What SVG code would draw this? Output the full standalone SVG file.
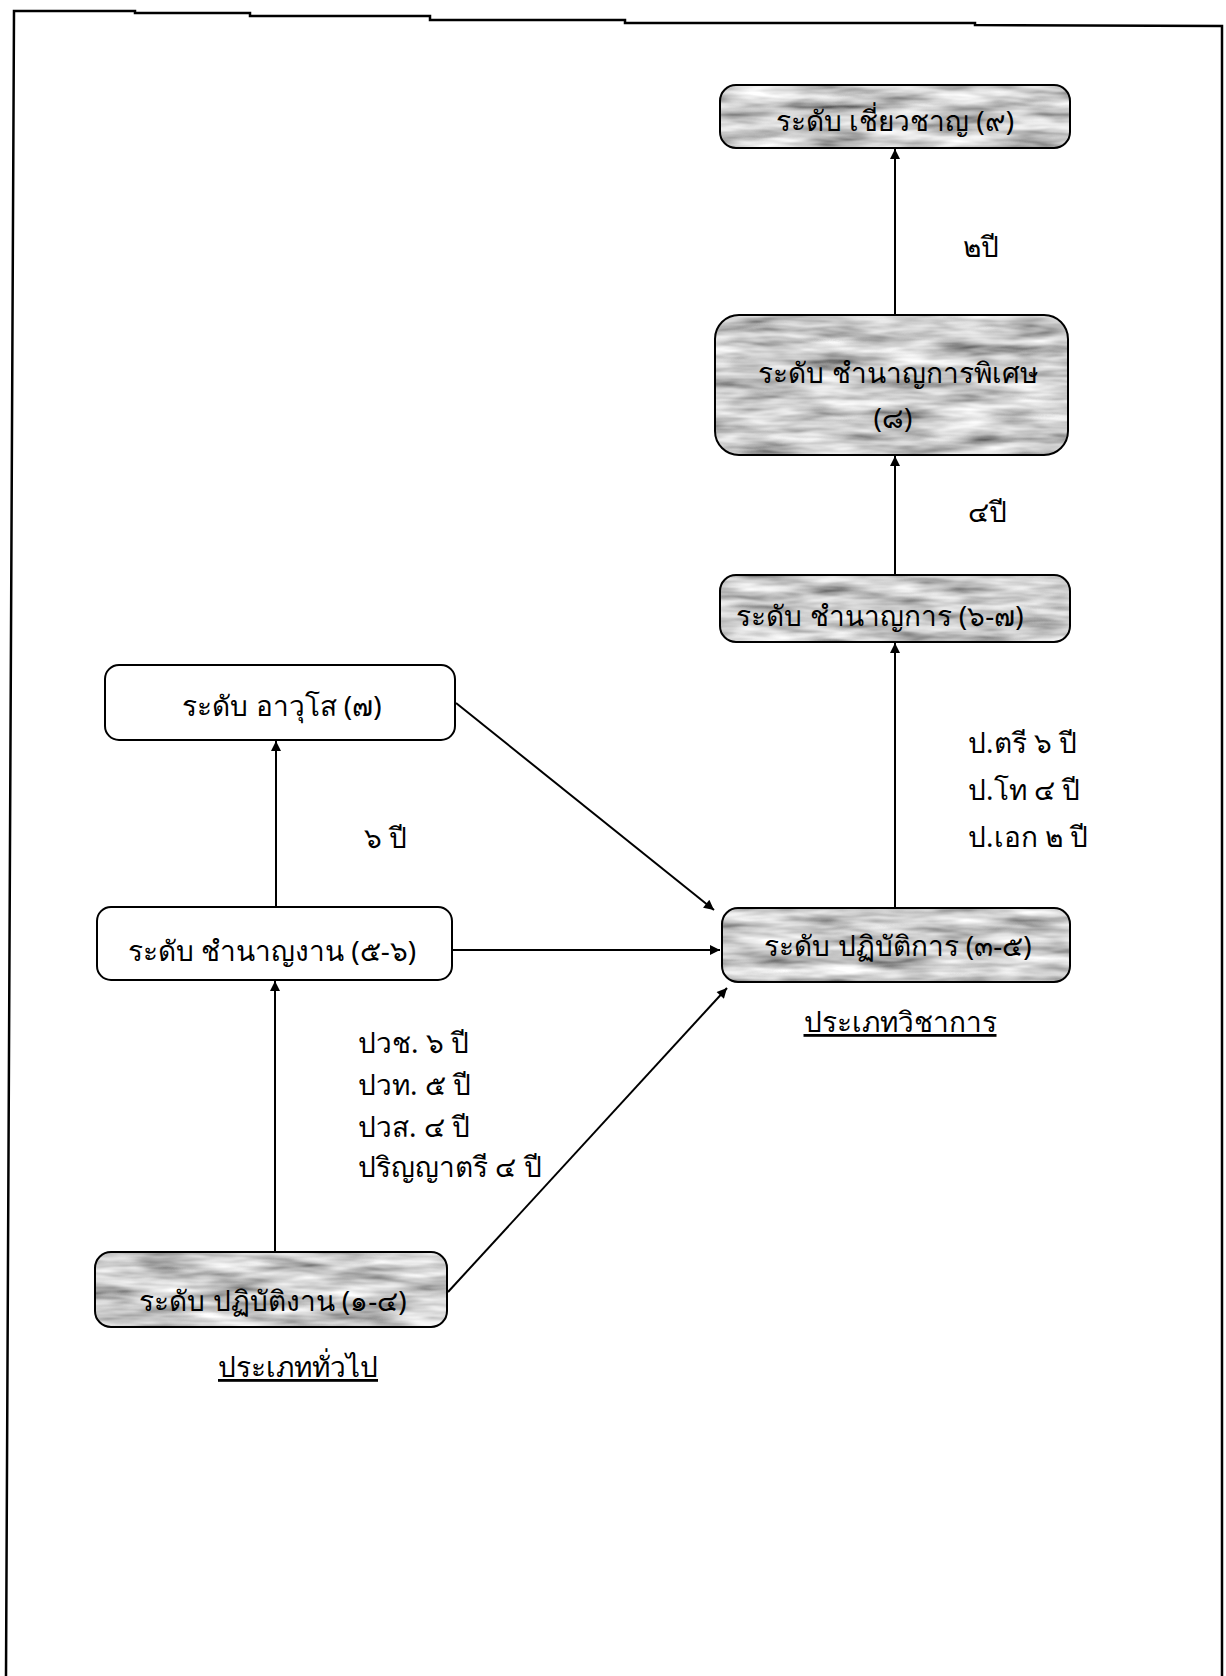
<svg xmlns="http://www.w3.org/2000/svg" width="1226" height="1676" viewBox="0 0 1226 1676">
<style>
  .t { font-family: "Noto Sans", "DejaVu Sans", sans-serif; font-size: 28px; fill: #000; }
  .c { text-anchor: middle; }
  .lbl { font-family: "Noto Sans", "DejaVu Sans", sans-serif; font-size: 28px; fill: #000; }
  .u { text-decoration: underline; }
  .box { fill: none; stroke: #000; stroke-width: 2; }
  .wbox { fill: #fff; stroke: #000; stroke-width: 2; }
  .gfill { fill: #000; filter: url(#tex); }
  .con { stroke: #000; stroke-width: 2; fill: none; marker-end: url(#ah); }
  .frame { stroke: #000; stroke-width: 2.5; fill: none; }
</style>
<defs>
  <marker id="ah" viewBox="0 0 10 10" refX="10" refY="5" markerWidth="6" markerHeight="5" orient="auto" markerUnits="strokeWidth">
    <path d="M0,0 L10,5 L0,10 z" fill="#000"/>
  </marker>
  <filter id="tex" x="0" y="0" width="100%" height="100%">
    <feTurbulence type="fractalNoise" baseFrequency="0.015 0.09" numOctaves="3" seed="7" result="n"/>
    <feColorMatrix in="n" type="matrix" values="1.3 0 0 0 -0.05  1.3 0 0 0 -0.05  1.3 0 0 0 -0.05  0 0 0 0 1" result="g"/>
    <feComposite in="g" in2="SourceAlpha" operator="in"/>
  </filter>
</defs>
<rect x="0" y="0" width="1226" height="1676" fill="#fff"/>
<g id="frame">
  <polyline class="frame" points="6,1676 14,11 135,11 135,13 250,13 250,16 430,16 430,20 625,20 625,23 975,23 975,25 1222,26 1222,1676"/>
</g>
<g id="connectors">
  <line class="con" x1="895" y1="315" x2="895" y2="149"/>
  <line class="con" x1="895" y1="575" x2="895" y2="456"/>
  <line class="con" x1="895" y1="908" x2="895" y2="643"/>
  <line class="con" x1="456" y1="703" x2="714" y2="910"/>
  <line class="con" x1="453" y1="950" x2="720" y2="950"/>
  <line class="con" x1="448" y1="1292" x2="727" y2="988"/>
  <line class="con" x1="275" y1="1252" x2="275" y2="981"/>
  <line class="con" x1="276" y1="907" x2="276" y2="741"/>
</g>
<g id="n_expert">
  <rect class="gfill" x="720" y="85" width="350" height="63" rx="16"/>
  <rect class="box" x="720" y="85" width="350" height="63" rx="16"/>
  <text class="t c" x="895" y="131">ระดับ เชี่ยวชาญ (๙)</text>
</g>
<g id="n_senior_pro">
  <rect class="gfill" x="715" y="315" width="353" height="140" rx="24"/>
  <rect class="box" x="715" y="315" width="353" height="140" rx="24"/>
  <text class="t c" x="898" y="383">ระดับ ชำนาญการพิเศษ</text>
  <text class="t c" x="893" y="428">(๘)</text>
</g>
<g id="n_pro">
  <rect class="gfill" x="720" y="575" width="350" height="67" rx="16"/>
  <rect class="box" x="720" y="575" width="350" height="67" rx="16"/>
  <text class="t c" x="880" y="626">ระดับ ชำนาญการ (๖-๗)</text>
</g>
<g id="n_practitioner">
  <rect class="gfill" x="722" y="908" width="348" height="74" rx="16"/>
  <rect class="box" x="722" y="908" width="348" height="74" rx="16"/>
  <text class="t c" x="898" y="956">ระดับ ปฏิบัติการ (๓-๕)</text>
</g>
<g id="n_senior">
  <rect class="wbox" x="105" y="665" width="350" height="75" rx="14"/>
  <text class="t c" x="282" y="716">ระดับ อาวุโส (๗)</text>
</g>
<g id="n_experienced">
  <rect class="wbox" x="97" y="907" width="355" height="73" rx="14"/>
  <text class="t c" x="272" y="961">ระดับ ชำนาญงาน (๕-๖)</text>
</g>
<g id="n_operator">
  <rect class="gfill" x="95" y="1252" width="352" height="75" rx="16"/>
  <rect class="box" x="95" y="1252" width="352" height="75" rx="16"/>
  <text class="t c" x="273" y="1311">ระดับ ปฏิบัติงาน (๑-๔)</text>
</g>
<g id="labels">
  <text class="lbl" x="963" y="257">๒ปี</text>
  <text class="lbl" x="968" y="522">๔ปี</text>
  <text class="lbl" x="968" y="753">ป.ตรี ๖ ปี</text>
  <text class="lbl" x="968" y="800">ป.โท ๔ ปี</text>
  <text class="lbl" x="968" y="847">ป.เอก ๒ ปี</text>
  <text class="lbl" x="364" y="848">๖ ปี</text>
  <text class="lbl" x="358" y="1053">ปวช. ๖ ปี</text>
  <text class="lbl" x="358" y="1095">ปวท. ๕ ปี</text>
  <text class="lbl" x="358" y="1137">ปวส. ๔ ปี</text>
  <text class="lbl" x="358" y="1177">ปริญญาตรี ๔ ปี</text>
  <text class="lbl c u" x="900" y="1032">ประเภทวิชาการ</text>
  <text class="lbl c u" x="298" y="1377">ประเภททั่วไป</text>
</g>
</svg>
